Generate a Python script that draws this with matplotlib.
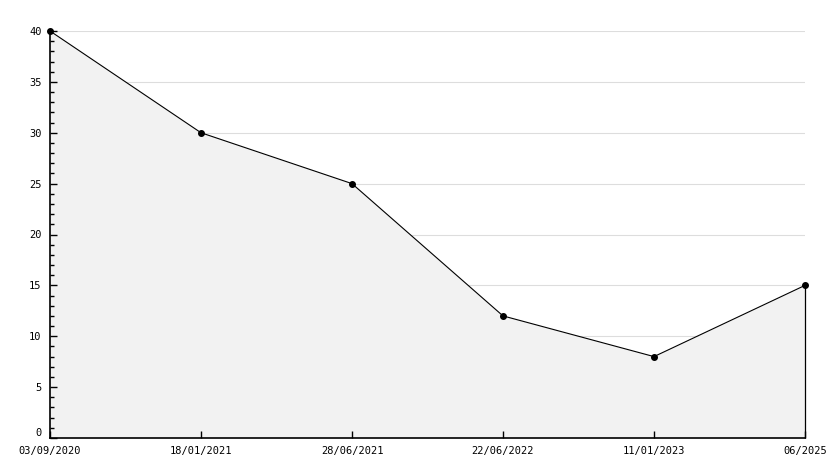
import matplotlib
matplotlib.use("Agg")
import matplotlib.pyplot as plt
from matplotlib.ticker import MultipleLocator

# data
dates = ["03/09/2020", "18/01/2021", "28/06/2021", "22/06/2022", "11/01/2023", "06/2025"]
values = [40, 30, 25, 12, 8, 15]
y_major = [0, 5, 10, 15, 20, 25, 30, 35, 40]

fig = plt.figure(figsize=(8.34, 4.68), dpi=100)
ax = fig.add_axes([50 / 834, 30 / 468, 755 / 834, 407 / 468])

x = list(range(len(dates)))
# grid behind the filled area
ax.hlines(y_major[1:], 0, x[-1], color="#dddddd", lw=0.8, zorder=0)
ax.fill_between(x, values, 0, color="#f2f2f2", lw=0, zorder=1)
ax.plot(x, values, color="black", lw=0.8, zorder=3)
ax.plot(x, values, "o", color="black", ms=4, zorder=4, clip_on=False)
ax.vlines(x[-1], 0, values[-1], color="black", lw=0.9, zorder=3, clip_on=False)

ax.set_xlim(0, len(dates) - 1)
ax.set_ylim(0, 40)
ax.set_xticks(x)
ax.set_xticklabels(dates, family="DejaVu Sans Mono")
# "0" is drawn separately, a bit higher, as in the reference
ax.set_yticks(y_major)
ax.set_yticklabels([""] + [str(v) for v in y_major[1:]], family="DejaVu Sans Mono")
ax.yaxis.set_minor_locator(MultipleLocator(1))
ax.annotate(str(y_major[0]), (0, y_major[0]), xytext=(-6, 3.8), textcoords="offset points",
            ha="right", va="center", fontsize=7.5, family="DejaVu Sans Mono")
ax.set_axisbelow(False)

for s in ["top", "right"]:
    ax.spines[s].set_visible(False)
ax.spines["left"].set_linewidth(1.2)
ax.spines["bottom"].set_linewidth(1.2)

ax.tick_params(axis="both", direction="in", length=5, width=1, labelsize=7.5,
               colors="black", pad=6)
ax.tick_params(axis="y", which="minor", direction="in", length=3, width=1)

fig.savefig("out.png", dpi=100)
